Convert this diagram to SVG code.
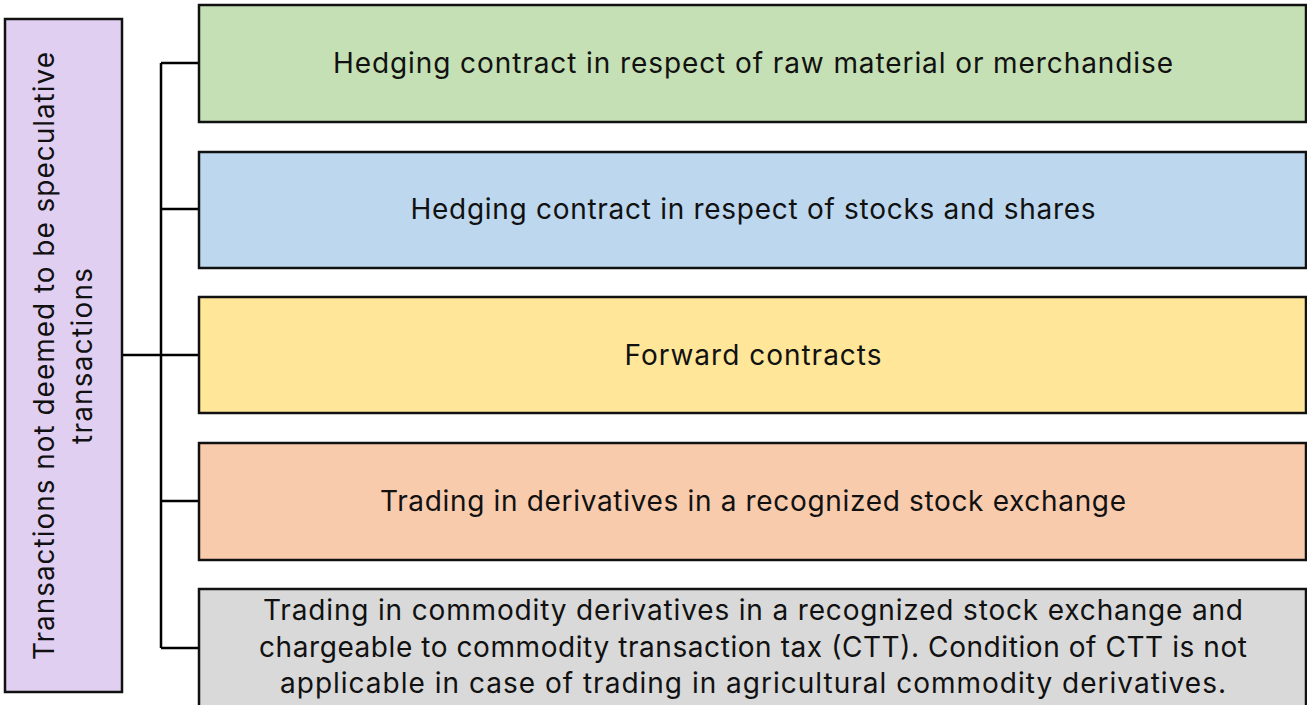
<svg xmlns="http://www.w3.org/2000/svg" width="1307" height="705" viewBox="0 0 1307 705">
<style>
.box{stroke:#111;stroke-width:2.5}
.t{font-family:Inter,"Open Sans","Liberation Sans",sans-serif;font-size:28px;fill:#111;text-anchor:middle}
.c{fill:none;stroke:#000;stroke-width:2.5}
</style>
<rect width="1307" height="705" fill="#fff"/>
<g id="connectors">
<line class="c" x1="122" y1="355" x2="161" y2="355"/>
<line class="c" x1="161" y1="63" x2="161" y2="648"/>
<line class="c" x1="161" y1="63" x2="199" y2="63"/>
<line class="c" x1="161" y1="209" x2="199" y2="209"/>
<line class="c" x1="161" y1="355" x2="199" y2="355"/>
<line class="c" x1="161" y1="501" x2="199" y2="501"/>
<line class="c" x1="161" y1="648" x2="199" y2="648"/>
</g>
<g id="root">
<rect class="box" x="5" y="19" width="117" height="673" fill="#E1CFF1"/>
<text class="t" transform="translate(54,356) rotate(-90)" x="0" y="0" textLength="608" lengthAdjust="spacing">Transactions not deemed to be speculative</text>
<text class="t" transform="translate(92,356) rotate(-90)" x="0" y="0" textLength="176" lengthAdjust="spacing">transactions</text>
</g>
<g id="n1">
<rect class="box" x="199" y="5" width="1107" height="117" fill="#C5E0B4"/>
<text class="t" x="753" y="73" textLength="840" lengthAdjust="spacing">Hedging contract in respect of raw material or merchandise</text>
</g>
<g id="n2">
<rect class="box" x="199" y="152" width="1107" height="116" fill="#BDD7EE"/>
<text class="t" x="753" y="219" textLength="685" lengthAdjust="spacing">Hedging contract in respect of stocks and shares</text>
</g>
<g id="n3">
<rect class="box" x="199" y="297" width="1107" height="116" fill="#FFE699"/>
<text class="t" x="753" y="365" textLength="257" lengthAdjust="spacing">Forward contracts</text>
</g>
<g id="n4">
<rect class="box" x="199" y="443" width="1107" height="117" fill="#F8CBAD"/>
<text class="t" x="753" y="511" textLength="746" lengthAdjust="spacing">Trading in derivatives in a recognized stock exchange</text>
</g>
<g id="n5">
<rect class="box" x="199" y="589" width="1107" height="130" fill="#D9D9D9"/>
<text class="t" x="753" y="620" textLength="980" lengthAdjust="spacing">Trading in commodity derivatives in a recognized stock exchange and</text>
<text class="t" x="753" y="657" textLength="988" lengthAdjust="spacing">chargeable to commodity transaction tax (CTT). Condition of CTT is not</text>
<text class="t" x="753" y="693" textLength="946" lengthAdjust="spacing">applicable in case of trading in agricultural commodity derivatives.</text>
</g>
</svg>
